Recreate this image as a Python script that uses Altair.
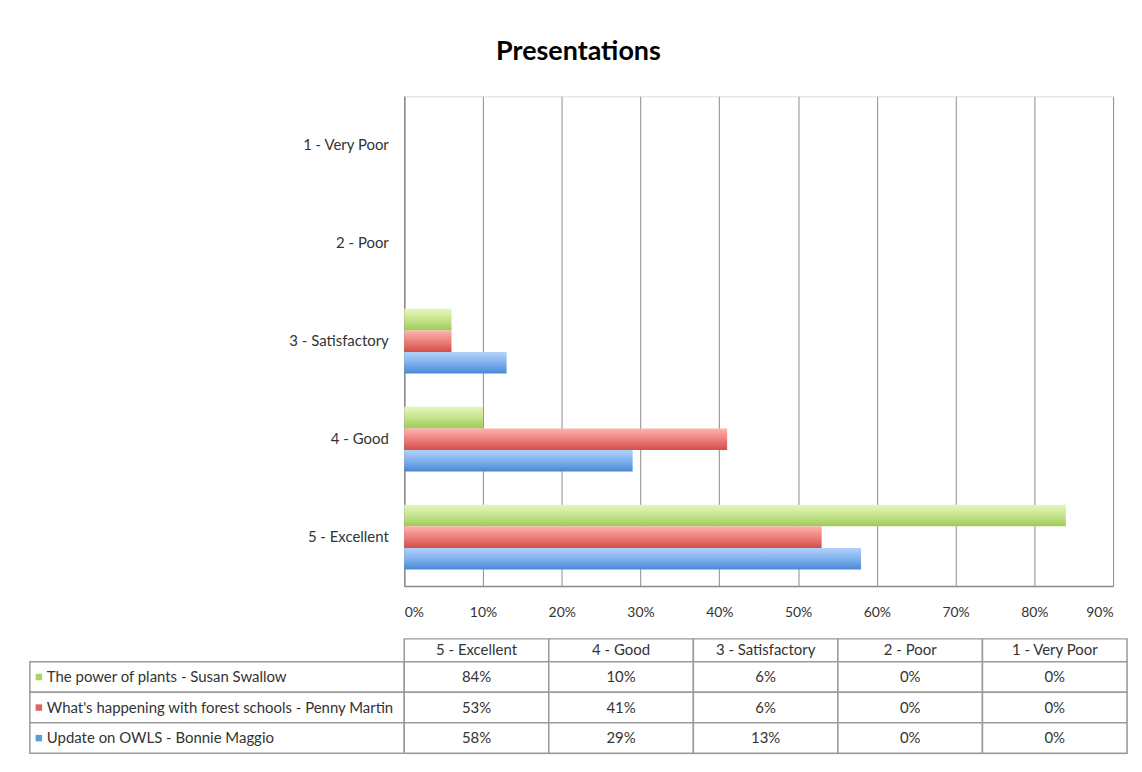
import altair as alt
import pandas as pd

# ---- data ----
ratings = ["5 - Excellent", "4 - Good", "3 - Satisfactory", "2 - Poor", "1 - Very Poor"]
axis_order = ["1 - Very Poor", "2 - Poor", "3 - Satisfactory", "4 - Good", "5 - Excellent"]
series = [
    "The power of plants - Susan Swallow",
    "What's happening with forest schools - Penny Martin",
    "Update on OWLS - Bonnie Maggio",
]
plants = [0.84, 0.10, 0.06, 0.0, 0.0]
forest = [0.53, 0.41, 0.06, 0.0, 0.0]
owls = [0.58, 0.29, 0.13, 0.0, 0.0]
x_ticks = [0, 0.1, 0.2, 0.3, 0.4, 0.5, 0.6, 0.7, 0.8, 0.9]

rows = []
for s, vals in zip(series, [plants, forest, owls]):
    for r, v in zip(ratings, vals):
        rows.append({"series": s, "rating": r, "value": v})
df = pd.DataFrame(rows)

# ---- styles ----
FONT = "Lato"
TXT = "#333333"
GRID = "#8c8c8c"
BORDER = "#9a9a9a"
LABEL_W = 376
HDR_H = 23
FS = 15
sq_colors = ["#a9d46a", "#e0625d", "#5b9ade"]
grad_stops = [
    ["#e4f6bb", "#c5e48d", "#9fca55"],
    ["#fbb4af", "#ee807b", "#d24f4a"],
    ["#b2d3fa", "#80b2ee", "#4a88d5"],
]

x_enc = alt.X(
    "value:Q",
    scale=alt.Scale(domain=[0, 0.9], nice=False),
    axis=alt.Axis(
        values=x_ticks, format=".0%", title=None, grid=True, gridColor=GRID,
        gridWidth=1, ticks=False, domainColor=GRID, domainWidth=1.5,
        labelPadding=20, labelFontSize=14, labelColor=TXT, labelFont=FONT,
    ),
)
y_enc = alt.Y(
    "rating:N",
    sort=axis_order,
    scale=alt.Scale(domain=axis_order, paddingInner=0.34, paddingOuter=0.17),
    axis=alt.Axis(
        title=None, ticks=False, domainColor=GRID, domainWidth=1.5,
        labelPadding=16, labelFontSize=FS, labelColor=TXT, labelFont=FONT,
    ),
)
yoff = alt.YOffset(
    "series:N", sort=series,
    scale=alt.Scale(domain=series, paddingInner=0, paddingOuter=0),
)

layers = []
for s, st in zip(series, grad_stops):
    grad = alt.LinearGradient(
        gradient="linear", x1=0, y1=0, x2=0, y2=1,
        stops=[
            alt.GradientStop(color=st[0], offset=0),
            alt.GradientStop(color=st[1], offset=0.5),
            alt.GradientStop(color=st[2], offset=1),
        ],
    )
    layers.append(
        alt.Chart(df)
        .transform_filter(alt.FieldEqualPredicate(field="series", equal=s))
        .mark_bar(color=grad)
        .encode(x=x_enc, y=y_enc, yOffset=yoff)
    )
bars = alt.layer(*layers).properties(width=712, height=492)

# ---- table ----
lab_df = pd.DataFrame({"series": series, "col": ["label"] * 3})
cell_scale = alt.Scale(domain=["label"], range=[-LABEL_W, 0], paddingInner=0, paddingOuter=0)
sq_scale = alt.Scale(domain=["label"], range=[-LABEL_W, -LABEL_W + 18], paddingInner=0, paddingOuter=0)
txt_scale = alt.Scale(domain=["label"], range=[-LABEL_W, -LABEL_W + 34], paddingInner=0, paddingOuter=0)
row_y = alt.Y("series:N", sort=series,
              scale=alt.Scale(domain=series, paddingInner=0, paddingOuter=0), axis=None)

lab_cells = alt.Chart(lab_df).mark_rect(fill="white", stroke=BORDER, strokeWidth=1.5).encode(
    x=alt.X("col:N", scale=cell_scale, axis=None), y=row_y)
lab_sq = alt.Chart(lab_df).mark_square(size=42, opacity=1).encode(
    x=alt.X("col:N", scale=sq_scale, axis=None), y=row_y,
    color=alt.Color("series:N", scale=alt.Scale(domain=series, range=sq_colors), legend=None))
lab_txt = alt.Chart(lab_df).mark_text(align="left", font=FONT, fontSize=FS, color=TXT).encode(
    x=alt.X("col:N", scale=txt_scale, axis=None), y=row_y, text="series:N")

val_x = alt.X("rating:N", sort=ratings,
              scale=alt.Scale(domain=ratings, paddingInner=0, paddingOuter=0), axis=None)
val_cells = alt.Chart(df).mark_rect(fill="white", stroke=BORDER, strokeWidth=1.5).encode(x=val_x, y=row_y)
val_txt = alt.Chart(df).mark_text(font=FONT, fontSize=FS, color=TXT).encode(
    x=val_x, y=row_y, text=alt.Text("value:Q", format=".0%"))

hdr_df = pd.DataFrame({"rating": ratings, "row": ["h"] * 5})
hdr_y = alt.Y("row:N", scale=alt.Scale(domain=["h"], range=[-HDR_H, 0], paddingInner=0, paddingOuter=0),
              axis=None)
hdr_cells = alt.Chart(hdr_df).mark_rect(fill="white", stroke=BORDER, strokeWidth=1.5).encode(x=val_x, y=hdr_y)
hdr_txt = alt.Chart(hdr_df).mark_text(font=FONT, fontSize=FS, color=TXT).encode(x=val_x, y=hdr_y, text="rating:N")

table = (
    alt.layer(hdr_cells, hdr_txt, lab_cells, lab_sq, lab_txt, val_cells, val_txt)
    .resolve_scale(x="independent", y="independent")
    .properties(width=726, height=92)
)

chart = (
    alt.vconcat(bars, table, spacing=16)
    .properties(
        title=alt.TitleParams("Presentations", fontSize=27, font=FONT, fontWeight="bold",
                              color="#000000", anchor="middle", offset=30),
        padding={"left": 20, "top": 28, "right": 5, "bottom": 5},
    )
    .configure_view(stroke="transparent")
    .configure(font=FONT)
)

chart.save("out.html", embed_options={"renderer": "svg", "actions": False})
